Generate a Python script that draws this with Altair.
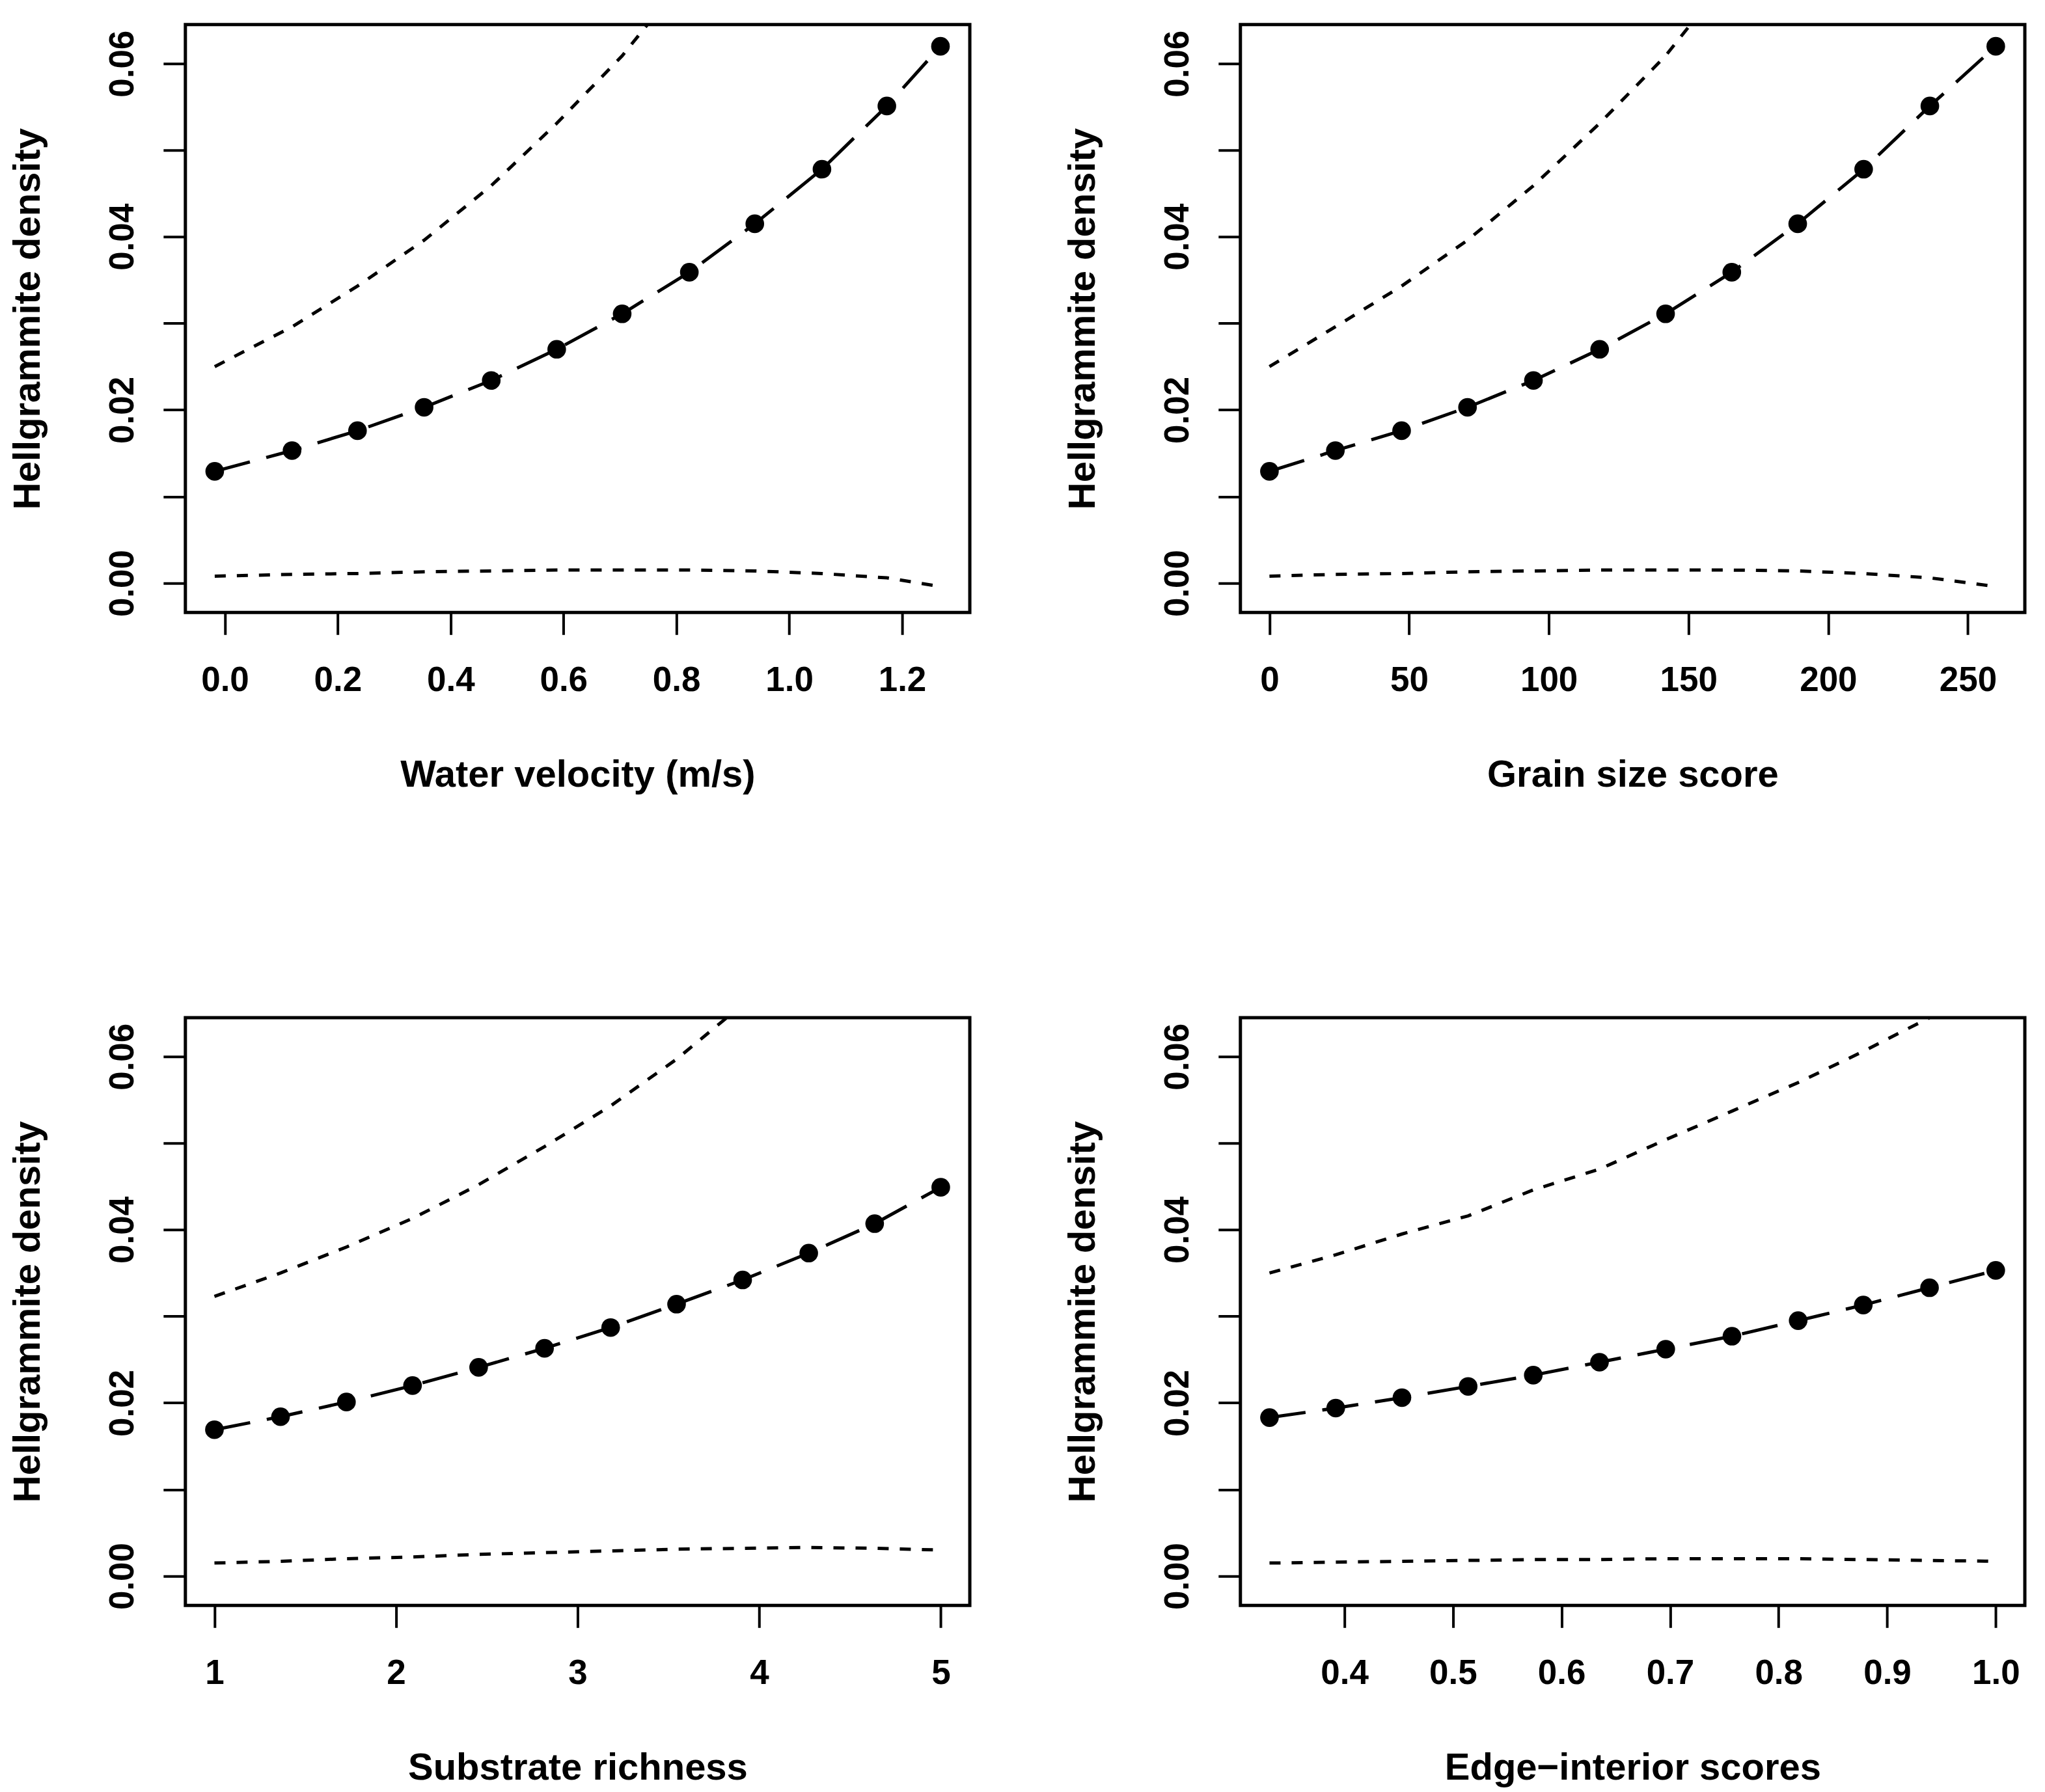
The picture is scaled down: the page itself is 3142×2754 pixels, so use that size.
import altair as alt
import pandas as pd

# ---------------- data ----------------
# Panel 1: water velocity
vel_x = [-0.018, 0.119, 0.235, 0.353, 0.472, 0.588, 0.704, 0.823, 0.939, 1.058, 1.173, 1.268]
vel_fit = [0.0129, 0.0153, 0.0176, 0.0203, 0.0234, 0.0270, 0.0311, 0.0359, 0.0415, 0.0478, 0.0551, 0.0620]
vel_low = [0.0008, 0.0010, 0.0011, 0.0013, 0.0014, 0.0015, 0.0015, 0.0015, 0.0014, 0.0011, 0.0006, -0.0004]
vel_up = [0.0250, 0.0296, 0.0343, 0.0396, 0.0459, 0.0531, 0.0609, 0.0705]

# Panel 2: grain size score
grain_x = [0, 23.6, 47.3, 70.9, 94.5, 118.2, 141.8, 165.5, 189.1, 212.7, 236.4, 260]
grain_fit = [0.0129, 0.0153, 0.0176, 0.0203, 0.0234, 0.0270, 0.0311, 0.0359, 0.0415, 0.0478, 0.0551, 0.0620]
grain_low = [0.0008, 0.0010, 0.0011, 0.0013, 0.0014, 0.0015, 0.0015, 0.0015, 0.0014, 0.0011, 0.0006, -0.0004]
grain_up = [0.0250, 0.0296, 0.0343, 0.0396, 0.0459, 0.0531, 0.0609, 0.0705]

# Panel 3: substrate richness
sub_x = [1.0, 1.364, 1.727, 2.091, 2.455, 2.818, 3.182, 3.545, 3.909, 4.273, 4.636, 5.0]
sub_fit = [0.0169, 0.0184, 0.0201, 0.0220, 0.0241, 0.0263, 0.0287, 0.0314, 0.0342, 0.0373, 0.0407, 0.0449]
sub_low = [0.0015, 0.0017, 0.0020, 0.0022, 0.0025, 0.0027, 0.0029, 0.0031, 0.0032, 0.0033, 0.0032, 0.0030]
sub_up = [0.0323, 0.0350, 0.0380, 0.0413, 0.0452, 0.0496, 0.0543, 0.0597, 0.0660]

# Panel 4: edge-interior scores
edge_x = [0.331, 0.392, 0.453, 0.514, 0.574, 0.635, 0.696, 0.757, 0.818, 0.878, 0.939, 1.0]
edge_fit = [0.0183, 0.0194, 0.0206, 0.0219, 0.0232, 0.0247, 0.0262, 0.0277, 0.0295, 0.0313, 0.0333, 0.0353]
edge_low = [0.0015, 0.0016, 0.0017, 0.0018, 0.0019, 0.0019, 0.0020, 0.0020, 0.0020, 0.0019, 0.0018, 0.0017]
edge_up = [0.0350, 0.0371, 0.0395, 0.0416, 0.0446, 0.0470, 0.0504, 0.0537, 0.0570, 0.0606, 0.0645, 0.0685]

y_ticks = [0.0, 0.01, 0.02, 0.03, 0.04, 0.05, 0.06]
vel_ticks = [0.0, 0.2, 0.4, 0.6, 0.8, 1.0, 1.2]
grain_ticks = [0, 50, 100, 150, 200, 250]
sub_ticks = [1, 2, 3, 4, 5]
edge_ticks = [0.4, 0.5, 0.6, 0.7, 0.8, 0.9, 1.0]

FONT = "Liberation Sans, Arial, Helvetica"
W, H = 1206, 904
Y_DOMAIN = [-0.0034, 0.0645]


def panel(x, fit, low, up, xdomain, xticks, xfmt, xtitle):
    df_fit = pd.DataFrame({"x": x, "y": fit})
    df_low = pd.DataFrame({"x": x, "y": low})
    df_up = pd.DataFrame({"x": x[: len(up)], "y": up})

    xenc = alt.X(
        "x:Q",
        scale=alt.Scale(domain=xdomain, nice=False, zero=False),
        axis=alt.Axis(values=xticks, format=xfmt, title=xtitle),
    )
    yenc = alt.Y(
        "y:Q",
        scale=alt.Scale(domain=Y_DOMAIN, nice=False, zero=False),
        axis=alt.Axis(
            values=y_ticks,
            labelExpr="round(datum.value*100) % 2 == 0 ? format(datum.value, '.2f') : ''",
            title="Hellgrammite density",
            labelAngle=270,
            labelAlign="center",
            labelBaseline="bottom",
        ),
    )
    ci_style = dict(clip=True, color="black", strokeWidth=5, strokeDash=[17, 17])
    lo = alt.Chart(df_low).mark_line(**ci_style).encode(x=xenc, y=yenc)
    hi = alt.Chart(df_up).mark_line(**ci_style).encode(x=xenc, y=yenc)
    ln = alt.Chart(df_fit).mark_line(
        clip=True, color="black", strokeWidth=5, strokeDash=[56, 26]
    ).encode(x=xenc, y=yenc)
    pts = alt.Chart(df_fit).mark_circle(
        color="black", opacity=1, size=820
    ).encode(x=xenc, y=yenc)
    return alt.layer(lo, hi, ln, pts).properties(width=W, height=H)


p1 = panel(vel_x, vel_fit, vel_low, vel_up, [-0.070, 1.320], vel_ticks, ".1f", "Water velocity (m/s)")
p2 = panel(grain_x, grain_fit, grain_low, grain_up, [-10.4, 270.4], grain_ticks, "d", "Grain size score")
p3 = panel(sub_x, sub_fit, sub_low, sub_up, [0.84, 5.16], sub_ticks, "d", "Substrate richness")
p4 = panel(edge_x, edge_fit, edge_low, edge_up, [0.3042, 1.0268], edge_ticks, ".1f", "Edge\u2212interior scores")

chart = (
    alt.concat(p1, p2, p3, p4, columns=2,
               spacing=alt.RowColnumber(row=623, column=416), bounds="flush")
    .properties(padding={"left": 4, "top": 26, "right": 20, "bottom": 20}, background="white")
    .configure_view(stroke="black", strokeWidth=5)
    .configure_axis(
        domain=False,
        grid=False,
        ticks=True,
        tickColor="black",
        tickWidth=4,
        tickSize=34,
        labelFont=FONT,
        labelFontSize=53,
        labelFontWeight="bold",
        labelColor="black",
        labelOverlap=False,
        labelFlush=False,
        titleFont=FONT,
        titleFontSize=58,
        titleFontWeight="bold",
        titleColor="black",
    )
    .configure_axisX(labelPadding=44, titlePadding=90)
    .configure_axisY(labelPadding=35, titlePadding=90)
)

chart.save("out.html", embed_options={"renderer": "svg", "actions": False})
